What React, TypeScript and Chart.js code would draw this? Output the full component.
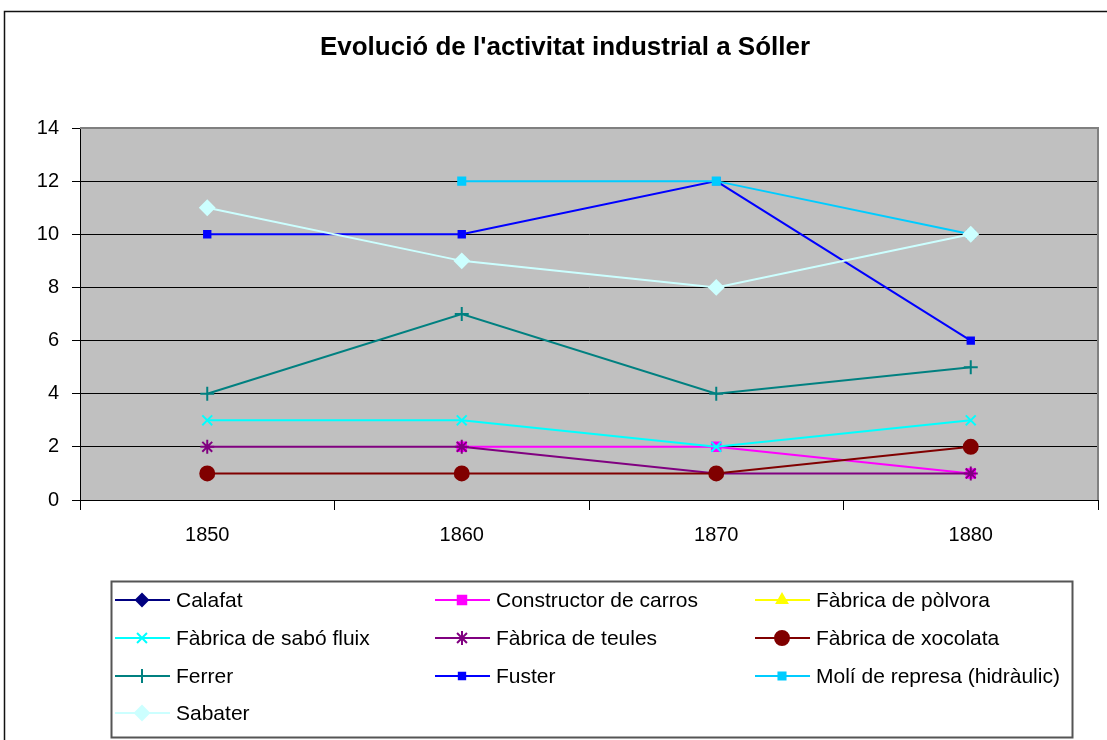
import React, { useEffect, useRef } from 'react';
import { Chart, registerables } from 'chart.js';
import { drawPoint } from 'chart.js/helpers';

Chart.register(...registerables);

const title = "Evolució de l'activitat industrial a Sóller";
const categories = ['1850', '1860', '1870', '1880'];
const yTicks = [0, 2, 4, 6, 8, 10, 12, 14];

const calafat = [null, null, 1, null];
const constructorCarros = [null, 2, 2, 1];
const fabricaPolvora = [null, null, 1, null];
const fabricaSabo = [3, 3, 2, 3];
const fabricaTeules = [2, 2, 1, 1];
const fabricaXocolata = [1, 1, 1, 2];
const ferrer = [4, 7, 4, 5];
const fuster = [10, 10, 12, 6];
const moliRepresa = [null, 12, 12, 10];
const sabater = [11, 9, 8, 10];

const seriesNames = [
  'Calafat',
  'Constructor de carros',
  'Fàbrica de pòlvora',
  'Fàbrica de sabó fluix',
  'Fàbrica de teules',
  'Fàbrica de xocolata',
  'Ferrer',
  'Fuster',
  'Molí de represa (hidràulic)',
  'Sabater',
];
const seriesValues = [
  calafat,
  constructorCarros,
  fabricaPolvora,
  fabricaSabo,
  fabricaTeules,
  fabricaXocolata,
  ferrer,
  fuster,
  moliRepresa,
  sabater,
];

const seriesStyles = [
  { color: '#000080', style: 'rectRot', radius: 6, fill: true },
  { color: '#FF00FF', style: 'rect', radius: 6, fill: true },
  { color: '#FFFF00', style: 'triangle', radius: 6, fill: true },
  { color: '#00FFFF', style: 'crossRot', radius: 7, fill: false },
  { color: '#800080', style: 'star', radius: 7, fill: false },
  { color: '#800000', style: 'circle', radius: 7, fill: true },
  { color: '#008080', style: 'cross', radius: 7, fill: false },
  { color: '#0000FF', style: 'rect', radius: 4.5, fill: true },
  { color: '#00CCFF', style: 'rect', radius: 5, fill: true },
  { color: '#CCFFFF', style: 'rectRot', radius: 7, fill: true },
];

const FONT = '"Liberation Sans", Arial, sans-serif';

const decorPlugin = {
  id: 'decor',
  beforeDraw(chart: any) {
    const { ctx, chartArea } = chart;
    ctx.save();
    ctx.fillStyle = '#ffffff';
    ctx.fillRect(0, 0, chart.width, chart.height);
    ctx.strokeStyle = '#111111';
    ctx.lineWidth = 1.5;
    ctx.beginPath();
    ctx.moveTo(4.5, chart.height + 2);
    ctx.lineTo(4.5, 11.5);
    ctx.lineTo(chart.width + 2, 11.5);
    ctx.stroke();
    ctx.fillStyle = '#C0C0C0';
    ctx.fillRect(chartArea.left, chartArea.top, chartArea.right - chartArea.left, chartArea.bottom - chartArea.top);
    ctx.restore();
  },
  afterDraw(chart: any) {
    const { ctx, chartArea } = chart;
    ctx.save();
    ctx.strokeStyle = '#808080';
    ctx.lineWidth = 2;
    ctx.beginPath();
    ctx.moveTo(chartArea.left, chartArea.top);
    ctx.lineTo(chartArea.right, chartArea.top);
    ctx.lineTo(chartArea.right, chartArea.bottom);
    ctx.stroke();

    ctx.fillStyle = '#000';
    ctx.font = `bold 26px ${FONT}`;
    ctx.textAlign = 'center';
    ctx.textBaseline = 'middle';
    ctx.fillText(title, 565, 48);

    ctx.strokeStyle = '#555555';
    ctx.lineWidth = 2;
    ctx.strokeRect(111.5, 581.5, 961, 156);

    const colX = [115, 435, 755];
    const rowY = [600, 638, 676, 713];
    ctx.font = `21px ${FONT}`;
    ctx.textAlign = 'left';
    seriesNames.forEach((name, i) => {
      const st = seriesStyles[i];
      const x = colX[i % 3];
      const y = rowY[Math.floor(i / 3)];
      ctx.strokeStyle = st.color;
      ctx.lineWidth = 2;
      ctx.beginPath();
      ctx.moveTo(x, y);
      ctx.lineTo(x + 55, y);
      ctx.stroke();
      ctx.fillStyle = st.color;
      ctx.strokeStyle = st.color;
      ctx.lineWidth = 2;
      drawPoint(ctx, { pointStyle: st.style, rotation: 0, radius: st.radius, borderWidth: 2 }, x + 27, y);
      ctx.fillStyle = '#000';
      ctx.fillText(name, x + 61, y + 1);
    });
    ctx.restore();
  },
};

export default function App() {
  const ref = useRef<HTMLCanvasElement>(null);
  useEffect(() => {
    document.body.style.margin = '0';
    const canvas = ref.current!;
    const chart = new Chart(canvas, {
      type: 'line',
      data: {
        labels: categories,
        datasets: seriesNames.map((name, i) => {
          const st = seriesStyles[i];
          return {
            label: name,
            data: seriesValues[i],
            borderColor: st.color,
            backgroundColor: st.fill ? st.color : 'transparent',
            borderWidth: 2,
            pointStyle: st.style as any,
            pointRadius: st.radius,
            pointBorderWidth: 2,
            pointBorderColor: st.color,
            pointBackgroundColor: st.fill ? st.color : 'transparent',
            tension: 0,
            spanGaps: false,
            order: 20 - i,
          };
        }),
      },
      options: {
        animation: false,
        responsive: false,
        devicePixelRatio: 1,
        layout: { padding: { top: 128, right: 6, left: 0, bottom: 0 } },
        plugins: {
          legend: { display: false },
          title: { display: false },
          tooltip: { enabled: false },
        },
        scales: {
          x: {
            type: 'category',
            offset: true,
            grid: {
              display: true,
              drawOnChartArea: false,
              drawTicks: true,
              tickLength: 10,
              offset: true,
              color: '#000',
            },
            border: { display: true, color: '#000', width: 1 },
            ticks: {
              color: '#000',
              font: { family: FONT, size: 20 },
              padding: 13,
              maxRotation: 0,
            },
            afterFit(scale: any) {
              scale.height = 240;
            },
          },
          y: {
            min: 0,
            max: 14,
            afterBuildTicks(scale: any) {
              scale.ticks = yTicks.map((v) => ({ value: v }));
            },
            grid: {
              color: '#000',
              lineWidth: 1,
              drawTicks: true,
              tickLength: 8,
            },
            border: { display: true, color: '#000', width: 1 },
            ticks: {
              color: '#000',
              font: { family: FONT, size: 20 },
              padding: 13,
            },
            afterFit(scale: any) {
              scale.width = 80;
            },
          },
        },
      },
      plugins: [decorPlugin],
    });
    return () => chart.destroy();
  }, []);
  return <canvas ref={ref} width={1107} height={740} style={{ display: 'block' }} />;
}
